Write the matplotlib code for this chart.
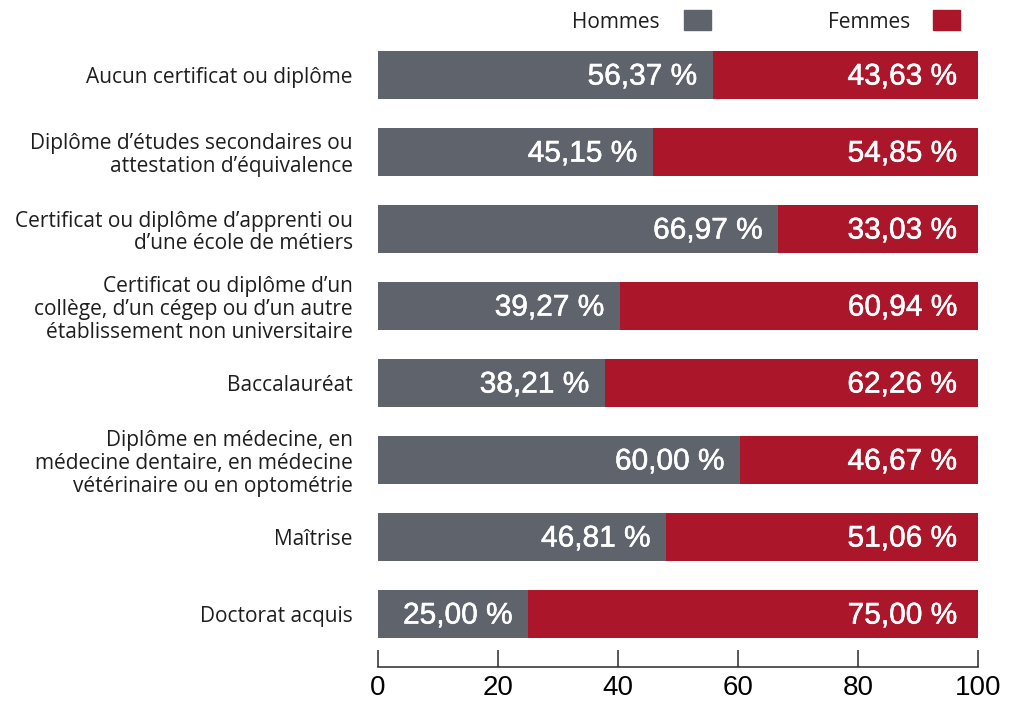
import matplotlib
matplotlib.use("Agg")
import matplotlib.pyplot as plt
import matplotlib.patheffects as pe
from matplotlib.patches import Rectangle

# --- data ------------------------------------------------------------
categories = [
    "Aucun certificat ou diplôme",
    "Diplôme d\u2019études secondaires ou\nattestation d\u2019équivalence",
    "Certificat ou diplôme d\u2019apprenti ou\nd\u2019une école de métiers",
    "Certificat ou diplôme d\u2019un\ncollège, d\u2019un cégep ou d\u2019un autre\nétablissement non universitaire",
    "Baccalauréat",
    "Diplôme en médecine, en\nmédecine dentaire, en médecine\nvétérinaire ou en optométrie",
    "Maîtrise",
    "Doctorat acquis",
]
hommes_lbl = ["56,37 %", "45,15 %", "66,97 %", "39,27 %", "38,21 %", "60,00 %", "46,81 %", "25,00 %"]
femmes_lbl = ["43,63 %", "54,85 %", "33,03 %", "60,94 %", "62,26 %", "46,67 %", "51,06 %", "75,00 %"]
# width of the grey segment as drawn; red fills to 100
hommes_bar = [55.8, 45.8, 66.7, 40.3, 37.8, 60.3, 48.0, 25.0]
total = 100

GREY = "#5f636b"
RED = "#ab162b"
TXT = "#1e1e1e"

fig = plt.figure(figsize=(10.17, 7.04), dpi=100)
ax = fig.add_axes([378 / 1017, 37 / 704, 600 / 1017, 647 / 704])

ypos = list(range(len(categories)))
femmes_bar = [total - h for h in hommes_bar]
ax.barh(ypos, hommes_bar, height=0.62, color=GREY)
ax.barh(ypos, femmes_bar, left=hommes_bar, height=0.62, color=RED)

# slightly heavier white labels
fx = [pe.withStroke(linewidth=0.4, foreground="white")]
for y, h, hl, fl in zip(ypos, hommes_bar, hommes_lbl, femmes_lbl):
    ax.text(h - 2.6, y + 0.02, hl, ha="right", va="center", color="white",
            fontsize=21.5, family="Liberation Sans", path_effects=fx)
    ax.text(total - 3.5, y + 0.02, fl, ha="right", va="center", color="white",
            fontsize=21.5, family="Liberation Sans", path_effects=fx)

ax.set_xlim(0, 100)
ax.set_ylim(7 + 53 / 77, -55 / 77)
ax.set_yticks(ypos)
ax.set_yticklabels(categories, family="Open Sans", fontsize=15, color=TXT,
                   linespacing=1.12)
ax.tick_params(axis="y", length=0, pad=18)
ax.set_xticks([0, 20, 40, 60, 80, 100])
ax.tick_params(axis="x", direction="in", length=12, width=1.1, color="#2a2a2a",
               pad=6, labelsize=20)
for lbl in ax.get_xticklabels():
    lbl.set_family("Liberation Sans")
for s in ["top", "right", "left"]:
    ax.spines[s].set_visible(False)
ax.spines["bottom"].set_linewidth(1.1)
ax.spines["bottom"].set_color("#2a2a2a")

# --- legend ----------------------------------------------------------
fig.text(660 / 1017, 1 - 23 / 704, "Hommes", ha="right", va="center",
         family="Open Sans", fontsize=15, color=TXT)
fig.patches.append(Rectangle((684 / 1017, 1 - 30 / 704), 27 / 1017, 20 / 704,
                             transform=fig.transFigure, color=GREY))
fig.text(910 / 1017, 1 - 23 / 704, "Femmes", ha="right", va="center",
         family="Open Sans", fontsize=15, color=TXT)
fig.patches.append(Rectangle((933 / 1017, 1 - 30 / 704), 27 / 1017, 20 / 704,
                             transform=fig.transFigure, color=RED))

fig.savefig("out.png", dpi=100)
